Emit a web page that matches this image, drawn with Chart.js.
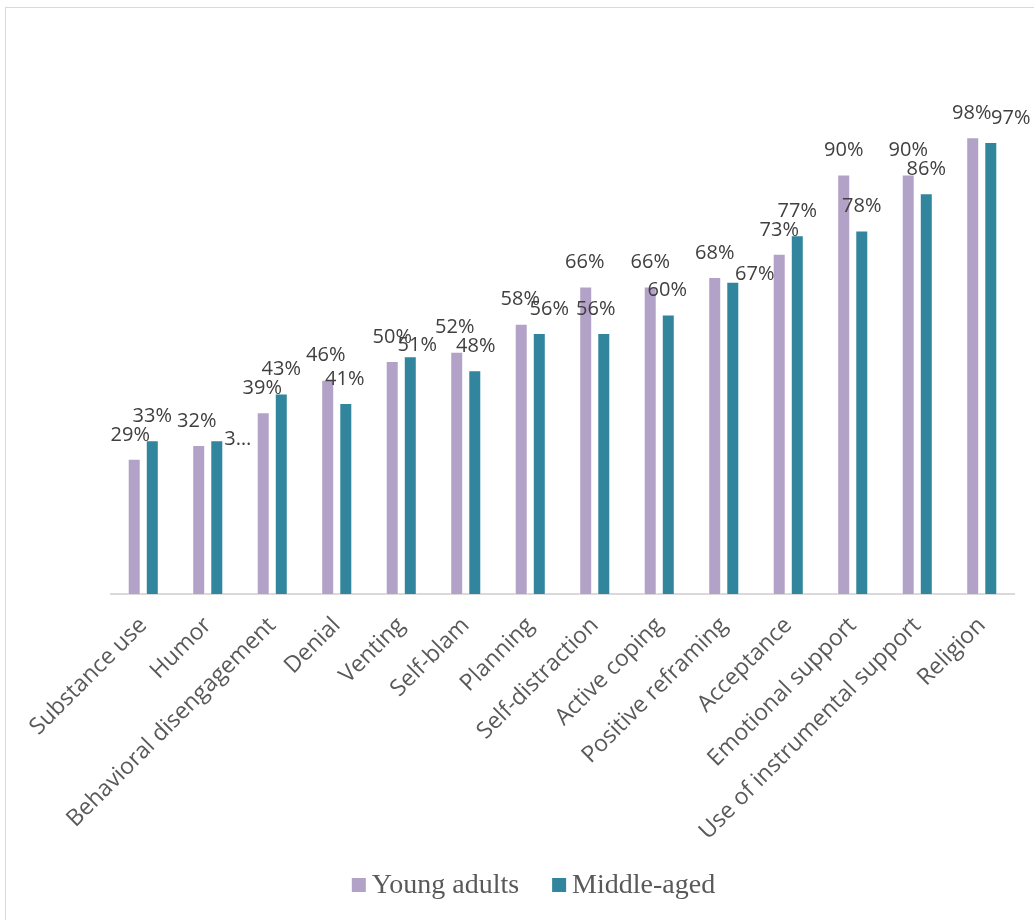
<!DOCTYPE html>
<html>
<head>
<meta charset="utf-8">
<script src="https://cdn.jsdelivr.net/npm/chart.js@4/dist/chart.umd.min.js"></script>
<style>
  html, body { margin: 0; padding: 0; background: #ffffff; overflow: hidden; }
  #wrap { position: relative; width: 1034px; height: 920px; }
  #frame { position: absolute; left: 5px; top: 7px; width: 1100px; height: 1000px; border: 1px solid #d9d9d9; box-sizing: border-box; }
  #c { position: absolute; left: 0; top: 0; }
</style>
</head>
<body>
<div id="wrap">
  <div id="frame"></div>
  <canvas id="c" width="1034" height="920"></canvas>
</div>
<script>
const categories = ['Substance use', 'Humor', 'Behavioral disengagement', 'Denial', 'Venting', 'Self-blam',
  'Planning', 'Self-distraction', 'Active coping', 'Positive reframing', 'Acceptance',
  'Emotional support', 'Use of instrumental support', 'Religion'];
const youngAdults = [29, 32, 39, 46, 50, 52, 58, 66, 66, 68, 73, 90, 90, 98];
const middleAged  = [33, 33, 43, 41, 51, 48, 56, 56, 60, 67, 77, 78, 86, 97];
const youngLabels  = ['29%', '32%', '39%', '46%', '50%', '52%', '58%', '66%', '66%', '68%', '73%', '90%', '90%', '98%'];
const middleLabels = ['33%', '3…', '43%', '41%', '51%', '48%', '56%', '56%', '60%', '67%', '77%', '78%', '86%', '97%'];
const seriesNames = ['Young adults', 'Middle-aged'];
const seriesColors = ['#b3a2c7', '#31859c'];

// label placement nudges (style, px) mimicking the reference's label layout
const labelNudge = [
  [[-4,0],[-2,0],[-1,0],[-2,0],[0,0],[-2,0],[-1,0],[-1,0],[0,0],[0,0],[0,0],[0,0],[0,0],[-1,0]],
  [[0,0],[21,23],[0,0],[-1,0],[7,13],[1,0],[10,0],[-8,0],[-1,0],[22,17],[0,0],[0,0],[0,0],[20,0]]
];
const labelText = [youngLabels, middleLabels];

const dataLabelPlugin = {
  id: 'dataLabelPlugin',
  afterDatasetsDraw(chart) {
    const ctx = chart.ctx;
    ctx.save();
    ctx.font = '20px "Open Sans"';
    ctx.fillStyle = '#404040';
    ctx.textAlign = 'center';
    ctx.textBaseline = 'middle';
    chart.data.datasets.forEach((ds, di) => {
      const meta = chart.getDatasetMeta(di);
      meta.data.forEach((bar, i) => {
        const n = labelNudge[di][i];
        ctx.fillText(labelText[di][i], bar.x + n[0], bar.y - 24 + n[1]);
      });
    });
    ctx.restore();
  }
};

const legendPlugin = {
  id: 'customLegend',
  afterDraw(chart) {
    const ctx = chart.ctx;
    ctx.save();
    ctx.font = '28px "Liberation Serif", "Times New Roman", serif';
    ctx.textBaseline = 'middle';
    ctx.textAlign = 'left';
    const box = 14, textGap = 6, itemGap = 33, cy = 885, centerX = 533.5;
    const widths = chart.data.datasets.map(d => ctx.measureText(d.label).width);
    let total = 0;
    widths.forEach((w, i) => { total += box + textGap + w + (i < widths.length - 1 ? itemGap : 0); });
    let x = centerX - total / 2;
    chart.data.datasets.forEach((d, i) => {
      ctx.fillStyle = d.backgroundColor;
      ctx.fillRect(x, cy - box / 2, box, box);
      ctx.fillStyle = '#595959';
      ctx.fillText(d.label, x + box + textGap, cy + 1);
      x += box + textGap + widths[i] + itemGap;
    });
    ctx.restore();
  }
};

new Chart(document.getElementById('c'), {
  type: 'bar',
  data: {
    labels: categories,
    datasets: [
      { label: seriesNames[0], data: youngAdults, backgroundColor: seriesColors[0], borderColor: 'rgba(255,255,255,0.55)', borderWidth: 1,
        categoryPercentage: 0.56, barPercentage: 0.72 },
      { label: seriesNames[1], data: middleAged, backgroundColor: seriesColors[1], borderColor: 'rgba(255,255,255,0.55)', borderWidth: 1,
        categoryPercentage: 0.56, barPercentage: 0.72 }
    ]
  },
  options: {
    responsive: false,
    animation: false,
    devicePixelRatio: 1,
    layout: { padding: { left: 111, right: 20, top: 128, bottom: 61 } },
    plugins: {
      legend: { display: false },
      tooltip: { enabled: false },
      title: { display: false }
    },
    scales: {
      x: {
        grid: { display: false, drawTicks: false },
        border: { display: true, color: '#d9d9d9', width: 2 },
        ticks: {
          font: { family: '"Open Sans"', size: 23 },
          color: '#595959',
          maxRotation: 45,
          minRotation: 45,
          autoSkip: false,
          padding: 18
        },
        afterFit(scale) { scale.paddingLeft = 0; scale.paddingRight = 0; scale.height = 265; }
      },
      y: {
        display: false,
        min: 0,
        max: 100
      }
    }
  },
  plugins: [dataLabelPlugin, legendPlugin]
});
</script>
</body>
</html>
